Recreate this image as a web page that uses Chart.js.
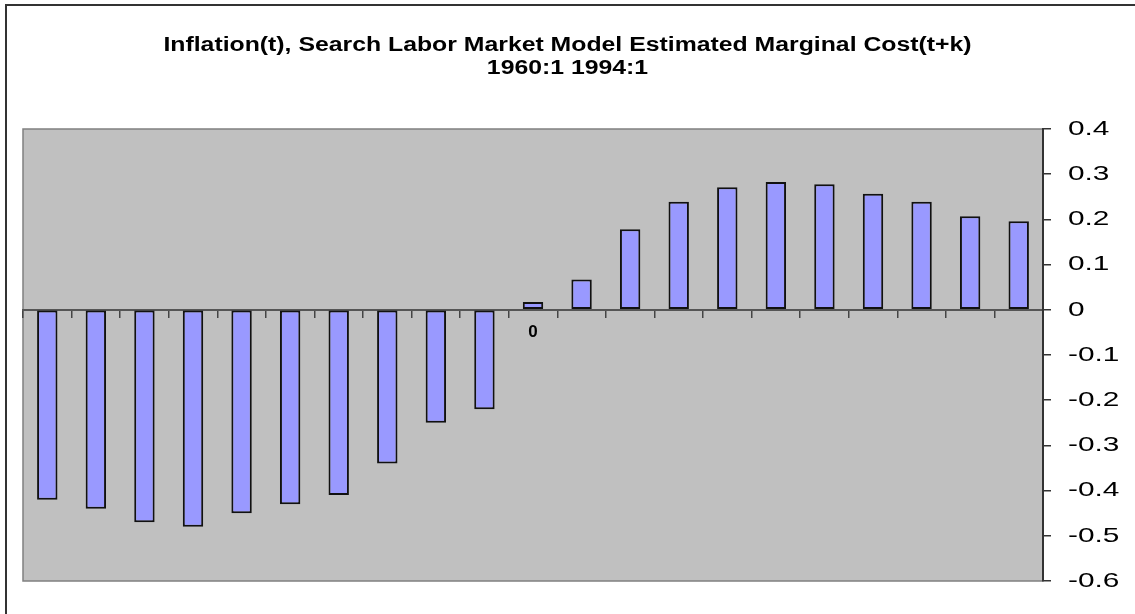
<!DOCTYPE html>
<html>
<head>
<meta charset="utf-8">
<script src="https://cdn.jsdelivr.net/npm/chart.js@4"></script>
<style>
  body { margin: 0; background: #fff; }
  canvas { display: block; }
</style>
</head>
<body>
<canvas id="corrChart" width="1135" height="614"></canvas>
<script>
// lead/lag k of marginal cost
const lags = [-10, -9, -8, -7, -6, -5, -4, -3, -2, -1, 0, 1, 2, 3, 4, 5, 6, 7, 8, 9, 10];
// correlation of inflation(t) with marginal cost(t+k)
const corr = [-0.42, -0.44, -0.47, -0.48, -0.45, -0.43, -0.41, -0.34, -0.25, -0.22,
              0.017, 0.067, 0.178, 0.239, 0.271, 0.283, 0.278, 0.257, 0.239, 0.207, 0.196];
const yMin = -0.6;
const yMax = 0.4;
const yStep = 0.1;
const titleLines = [
    "Inflation(t), Search Labor Market Model Estimated Marginal Cost(t+k)",
    "1960:1 1994:1"
];

// draw text a bit wider than the font, like the original picture
function wideText(ctx, text, x, y, sx, align) {
    ctx.save();
    ctx.translate(x, y);
    ctx.scale(sx, 1);
    ctx.textAlign = align;
    ctx.fillText(text, 0, 0);
    ctx.restore();
}

const frame = {
    id: "frame",
    beforeDraw(chart) {
        const ctx = chart.ctx;
        const a = chart.chartArea;
        ctx.save();
        ctx.fillStyle = "#fff";
        ctx.fillRect(0, 0, chart.width, chart.height);
        // outer chart border (only left and top are inside the picture)
        ctx.strokeStyle = "#333";
        ctx.lineWidth = 2;
        ctx.beginPath();
        ctx.moveTo(6, chart.height);
        ctx.lineTo(6, 5);
        ctx.lineTo(chart.width, 5);
        ctx.stroke();
        // grey plot area
        ctx.fillStyle = "#c0c0c0";
        ctx.fillRect(a.left, a.top, a.right - a.left, a.bottom - a.top);
        ctx.strokeStyle = "#808080";
        ctx.lineWidth = 1.5;
        ctx.strokeRect(a.left, a.top, a.right - a.left, a.bottom - a.top);
        ctx.restore();
    },
    afterDraw(chart) {
        const ctx = chart.ctx;
        const a = chart.chartArea;
        const y = chart.scales.y;
        ctx.save();
        ctx.fillStyle = "#000";
        ctx.textBaseline = "middle";
        ctx.font = 'bold 20px "Liberation Sans", Arial, sans-serif';
        wideText(ctx, titleLines[0], chart.width / 2, 45, 1.24, "center");
        wideText(ctx, titleLines[1], chart.width / 2, 68, 1.24, "center");
        ctx.font = '21px "Liberation Sans", Arial, sans-serif';
        y.ticks.forEach(t => {
            const label = String(Number(t.value.toFixed(1)));
            wideText(ctx, label, a.right + 25, y.getPixelForValue(t.value), 1.42, "left");
        });
        ctx.restore();
    }
};

const ctx = document.getElementById("corrChart").getContext("2d");

new Chart(ctx, {
    type: "bar",
    data: {
        labels: lags,
        datasets: [{
            data: corr,
            backgroundColor: "#9999ff",
            borderColor: "#111",
            borderWidth: 2,
            borderSkipped: false,
            barPercentage: 0.42,
            categoryPercentage: 1.0
        }]
    },
    options: {
        responsive: false,
        animation: false,
        layout: {
            padding: { left: 23, top: 129, right: 0, bottom: 33 }
        },
        plugins: {
            legend: { display: false },
            title: { display: false },
            tooltip: { enabled: false }
        },
        scales: {
            x: {
                position: { y: 0 },
                grid: {
                    drawOnChartArea: false,
                    offset: true,
                    tickLength: 7,
                    color: "#444",
                    lineWidth: 1.5
                },
                border: { color: "#555", width: 2 },
                ticks: {
                    autoSkip: false,
                    maxRotation: 0,
                    padding: 5,
                    color: "#000",
                    font: { family: '"Liberation Sans", Arial, sans-serif', size: 17, weight: "bold" },
                    callback: (val, i) => lags[i] === 0 ? "0" : ""
                },
                afterFit: s => { s.height = 0; }
            },
            y: {
                position: "right",
                min: yMin,
                max: yMax,
                ticks: { stepSize: yStep, display: false },
                grid: {
                    drawOnChartArea: false,
                    tickLength: 8,
                    color: "#333",
                    lineWidth: 1.5
                },
                border: { color: "#333", width: 2 },
                afterFit: s => { s.width = 92; }
            }
        }
    },
    plugins: [frame]
});
</script>
</body>
</html>
